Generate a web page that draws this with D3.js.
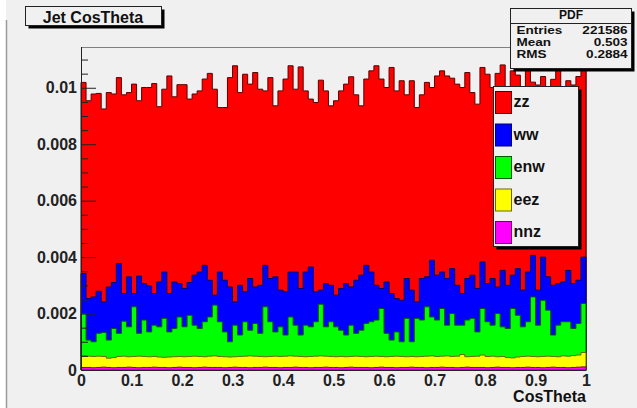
<!DOCTYPE html>
<html>
<head>
<meta charset="utf-8">
<script src="https://cdn.jsdelivr.net/npm/d3@7"></script>
<style>
  body { margin: 0; background: #f0f0f0; }
  svg { display: block; font-family: "Liberation Sans", Arial, sans-serif; font-weight: bold; }
</style>
</head>
<body>
<svg id="chart" width="637" height="408"></svg>
<script>
// --- data (100 bins of CosTheta in [0,1], per-sample contributions) ---
const seriesNames = ['zz', 'ww', 'enw', 'eez', 'nnz'];
const seriesColors = ['#ff0000', '#0000ff', '#00ff00', '#ffff00', '#ff00ff'];
const seriesLines = ['#5a0000', '#00006e', '#005a00', '#6a6a00', '#7a0060'];

const zz = [
  0.00677,0.00701,0.00719,0.00701,0.00684,0.00689,0.00668,0.00659,0.00704,0.00653,
  0.00742,0.00621,0.00695,0.00703,0.00744,0.00621,0.00648,0.00771,0.00656,0.00705,
  0.00722,0.00650,0.00642,0.00642,0.00660,0.00733,0.00730,0.00583,0.00612,0.00742,
  0.00837,0.00683,0.00771,0.00689,0.00760,0.00695,0.00618,0.00712,0.00606,0.00706,
  0.00754,0.00731,0.00648,0.00785,0.00642,0.00595,0.00671,0.00744,0.00683,0.00636,
  0.00689,0.00700,0.00707,0.00745,0.00657,0.00600,0.00660,0.00713,0.00778,0.00742,
  0.00689,0.00801,0.00736,0.00778,0.00651,0.00742,0.00689,0.00651,0.00689,0.00612,
  0.00706,0.00713,0.00718,0.00675,0.00713,0.00730,0.00730,0.00647,0.00653,0.00689,
  0.00742,0.00677,0.00757,0.00728,0.00692,0.00724,0.00686,0.00717,0.00723,0.00614,
  0.00727,0.00640,0.00660,0.00730,0.00759,0.00688,0.00672,0.00704,0.00722,0.00690
];
const ww = [
  0.00142,0.00147,0.00159,0.00149,0.00108,0.00188,0.00163,0.00247,0.00098,0.00177,
  0.00047,0.00203,0.00129,0.00163,0.00112,0.00159,0.00164,0.00136,0.00165,0.00118,
  0.00136,0.00116,0.00177,0.00200,0.00200,0.00130,0.00035,0.00176,0.00183,0.00194,
  0.00082,0.00176,0.00106,0.00183,0.00129,0.00170,0.00147,0.00153,0.00195,0.00130,
  0.00153,0.00159,0.00188,0.00165,0.00188,0.00212,0.00106,0.00050,0.00153,0.00129,
  0.00112,0.00148,0.00182,0.00135,0.00188,0.00195,0.00206,0.00176,0.00123,0.00071,
  0.00182,0.00165,0.00118,0.00147,0.00141,0.00183,0.00058,0.00147,0.00106,0.00201,
  0.00159,0.00129,0.00165,0.00159,0.00141,0.00112,0.00147,0.00153,0.00154,0.00165,
  0.00135,0.00165,0.00094,0.00200,0.00153,0.00118,0.00165,0.00130,0.00176,0.00147,
  0.00124,0.00153,0.00118,0.00176,0.00147,0.00141,0.00182,0.00159,0.00153,0.00164
];
const enw = [
  0.00150,0.00057,0.00052,0.00081,0.00085,0.00064,0.00103,0.00082,0.00124,0.00106,
  0.00176,0.00081,0.00129,0.00088,0.00111,0.00107,0.00138,0.00089,0.00100,0.00140,
  0.00106,0.00146,0.00110,0.00099,0.00124,0.00139,0.00180,0.00123,0.00088,0.00054,
  0.00112,0.00076,0.00122,0.00091,0.00116,0.00082,0.00177,0.00123,0.00086,0.00105,
  0.00075,0.00138,0.00110,0.00076,0.00112,0.00105,0.00122,0.00183,0.00104,0.00123,
  0.00106,0.00093,0.00077,0.00111,0.00081,0.00093,0.00118,0.00123,0.00128,0.00170,
  0.00083,0.00058,0.00086,0.00052,0.00136,0.00052,0.00136,0.00129,0.00175,0.00138,
  0.00129,0.00169,0.00109,0.00152,0.00110,0.00104,0.00130,0.00135,0.00086,0.00165,
  0.00123,0.00110,0.00153,0.00105,0.00103,0.00175,0.00148,0.00105,0.00122,0.00211,
  0.00112,0.00199,0.00163,0.00076,0.00112,0.00121,0.00122,0.00096,0.00112,0.00174
];
const eez = [
  0.00041,0.00040,0.00040,0.00040,0.00038,0.00033,0.00036,0.00039,0.00040,0.00037,
  0.00039,0.00041,0.00039,0.00038,0.00038,0.00037,0.00036,0.00038,0.00038,0.00038,
  0.00038,0.00039,0.00041,0.00039,0.00037,0.00040,0.00041,0.00039,0.00039,0.00037,
  0.00037,0.00039,0.00040,0.00042,0.00040,0.00039,0.00037,0.00039,0.00040,0.00040,
  0.00040,0.00041,0.00039,0.00039,0.00038,0.00040,0.00040,0.00041,0.00039,0.00039,
  0.00038,0.00040,0.00038,0.00038,0.00040,0.00039,0.00038,0.00040,0.00040,0.00038,
  0.00038,0.00039,0.00041,0.00039,0.00038,0.00038,0.00038,0.00039,0.00041,0.00041,
  0.00039,0.00039,0.00041,0.00039,0.00041,0.00046,0.00037,0.00039,0.00040,0.00044,
  0.00040,0.00040,0.00037,0.00039,0.00035,0.00035,0.00037,0.00039,0.00039,0.00039,
  0.00038,0.00040,0.00040,0.00038,0.00038,0.00041,0.00041,0.00042,0.00043,0.00051
];
const nnz = [
  0.00009,0.00009,0.00008,0.00009,0.00010,0.00009,0.00008,0.00009,0.00009,0.00010,
  0.00009,0.00008,0.00009,0.00009,0.00010,0.00009,0.00009,0.00008,0.00009,0.00010,
  0.00009,0.00009,0.00008,0.00009,0.00010,0.00009,0.00009,0.00009,0.00008,0.00009,
  0.00010,0.00009,0.00009,0.00008,0.00009,0.00009,0.00010,0.00009,0.00009,0.00008,
  0.00009,0.00009,0.00010,0.00009,0.00009,0.00008,0.00009,0.00009,0.00010,0.00009,
  0.00009,0.00008,0.00009,0.00010,0.00009,0.00009,0.00009,0.00008,0.00009,0.00010,
  0.00009,0.00009,0.00008,0.00009,0.00009,0.00010,0.00009,0.00009,0.00008,0.00009,
  0.00009,0.00010,0.00009,0.00009,0.00008,0.00009,0.00010,0.00009,0.00009,0.00009,
  0.00008,0.00009,0.00010,0.00009,0.00009,0.00008,0.00009,0.00009,0.00010,0.00009,
  0.00009,0.00008,0.00009,0.00010,0.00009,0.00009,0.00008,0.00009,0.00010,0.00011
];

const xTicks = [0, 0.1, 0.2, 0.3, 0.4, 0.5, 0.6, 0.7, 0.8, 0.9, 1];
const yTicks = [0, 0.002, 0.004, 0.006, 0.008, 0.01];
const yMinorTicks = [0.0005, 0.001, 0.0015, 0.0025, 0.003, 0.0035, 0.0045, 0.005, 0.0055,
  0.0065, 0.007, 0.0075, 0.0085, 0.009, 0.0095, 0.0105, 0.011];

const histTitle = 'Jet CosTheta';
const xTitle = 'CosTheta';
const statsName = 'PDF';
const statsLabels = ['Entries', 'Mean', 'RMS'];
const statsValues = ['221586', '0.503', '0.2884'];

// --- layout ---
const W = 637, H = 408;
const frame = { left: 81, right: 586, top: 47, bottom: 370 };
const bg = '#f0f0f0';

const svg = d3.select('#chart');

// window edge on the far left
svg.append('rect').attr('x', 0).attr('y', 0).attr('width', 6).attr('height', H).attr('fill', '#fff');
svg.append('line').attr('x1', 6.5).attr('x2', 6.5).attr('y1', 20).attr('y2', H)
  .attr('stroke', '#9a9a9a').attr('stroke-width', 1.5);

const nBins = zz.length;
const source = { zz, ww, enw, eez, nnz };
const rows = d3.range(nBins).map(i => {
  const r = { bin: i };
  seriesNames.forEach(k => { r[k] = source[k][i]; });
  return r;
});

// stacked from the bottom: nnz, eez, enw, ww, zz
const layers = d3.stack().keys(seriesNames.slice().reverse())(rows);
const yMax = d3.max(layers[layers.length - 1], d => d[1]) * 1.05;

const x = d3.scaleLinear().domain([0, 1]).range([frame.left, frame.right]);
const y = d3.scaleLinear().domain([0, yMax]).range([frame.bottom, frame.top]);

// frame (top + right in grey)
svg.append('path')
  .attr('d', `M${frame.left},${frame.top + 0.5}H${frame.right + 0.5}V${frame.bottom}`)
  .attr('fill', 'none').attr('stroke', '#808080').attr('stroke-width', 1);

const area = d3.area()
  .curve(d3.curveStepAfter)
  .x(d => x(d.x))
  .y0(y(0))
  .y1(d => y(d.v));

// THStack style: each cumulative histogram drawn from zero, largest first
layers.slice().reverse().forEach(layer => {
  const k = seriesNames.indexOf(layer.key);
  const pts = layer.map((d, i) => ({ x: i / nBins, v: d[1] }));
  pts.push({ x: 1, v: layer[nBins - 1][1] });
  svg.append('path')
    .datum(pts)
    .attr('d', area)
    .attr('fill', seriesColors[k])
    .attr('stroke', seriesLines[k])
    .attr('stroke-width', 1);
});

// Y axis
const yAxisG = svg.append('g')
  .attr('transform', `translate(${frame.left},0)`)
  .call(d3.axisLeft(y).tickValues(yTicks).tickSizeInner(-15).tickSizeOuter(0).tickPadding(4)
    .tickFormat(d => d === 0 ? '0' : d3.format('.3~f')(d)));
yAxisG.attr('font-family', null).attr('font-size', 16).attr('color', '#222');
yAxisG.select('.domain').attr('d', `M0.5,${frame.bottom}V${frame.top}`);

svg.append('g')
  .attr('transform', `translate(${frame.left},0)`)
  .call(d3.axisLeft(y).tickValues(yMinorTicks).tickSize(-7).tickFormat(''))
  .attr('color', '#222')
  .call(g => g.select('.domain').remove());

// X axis
const xAxisG = svg.append('g')
  .attr('transform', `translate(0,${frame.bottom})`)
  .call(d3.axisBottom(x).tickValues(xTicks).tickSize(0).tickPadding(5)
    .tickFormat(d3.format('.1~f')));
xAxisG.attr('font-family', null).attr('font-size', 16).attr('color', '#222');

svg.append('text')
  .attr('x', frame.right).attr('y', 402)
  .attr('text-anchor', 'end').attr('font-size', 16).attr('fill', '#111')
  .text(xTitle);

// boxes with ROOT-like drop shadow
function shadowBox(x0, y0, w, h, off) {
  svg.append('rect').attr('x', x0 + off).attr('y', y0 + off).attr('width', w).attr('height', h)
    .attr('fill', '#000');
  svg.append('rect').attr('x', x0).attr('y', y0).attr('width', w).attr('height', h)
    .attr('fill', bg).attr('stroke', '#222').attr('stroke-width', 1);
}

// title
shadowBox(25.5, 6.5, 136, 19, 3);
svg.append('text').attr('x', 93).attr('y', 23).attr('text-anchor', 'middle')
  .attr('font-size', 16).attr('fill', '#111').text(histTitle);

// legend
const leg = { x: 493.5, y: 86.5, w: 85, h: 160, row: 32.5 };
shadowBox(leg.x, leg.y, leg.w, leg.h, 3);
seriesNames.forEach((name, i) => {
  const cy = leg.y + 16 + i * leg.row;
  svg.append('rect')
    .attr('x', leg.x + 2).attr('y', cy - 11).attr('width', 16).attr('height', 22)
    .attr('fill', seriesColors[i]).attr('stroke', seriesLines[i]).attr('stroke-width', 1);
  svg.append('text')
    .attr('x', leg.x + 20).attr('y', cy + 4.5)
    .attr('font-size', 16).attr('fill', '#111').text(name);
});

// stats box
const st = { x: 510.5, y: 8.5, w: 121, h: 60 };
shadowBox(st.x, st.y, st.w, st.h, 3);
svg.append('text').attr('x', st.x + st.w / 2).attr('y', 19)
  .attr('text-anchor', 'middle').attr('font-size', 12).attr('fill', '#111').text(statsName);
svg.append('line').attr('x1', st.x).attr('x2', st.x + st.w).attr('y1', 23.5).attr('y2', 23.5)
  .attr('stroke', '#222');
statsLabels.forEach((lab, i) => {
  const base = 34 + i * 12;
  svg.append('text')
    .attr('transform', `translate(${st.x + 6},${base}) scale(1.23,1)`)
    .attr('font-size', 11).attr('fill', '#111').text(lab);
  svg.append('text')
    .attr('transform', `translate(${st.x + st.w - 4},${base}) scale(1.23,1)`)
    .attr('text-anchor', 'end').attr('font-size', 11).attr('fill', '#111').text(statsValues[i]);
});
</script>
</body>
</html>
